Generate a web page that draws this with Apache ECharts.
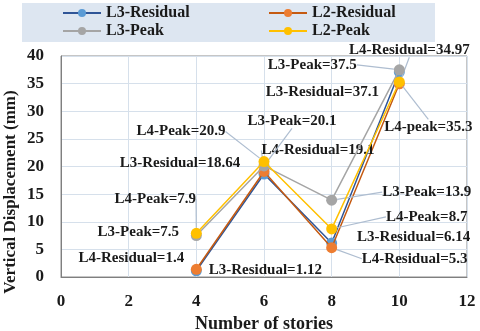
<!DOCTYPE html>
<html><head><meta charset="utf-8">
<script src="https://cdn.jsdelivr.net/npm/echarts@6/dist/echarts.min.js"></script>
<style>html,body{margin:0;padding:0;background:#fff}#c{width:480px;height:331px}</style>
</head><body><div id="c"></div>
<script>
var stories = [4, 6, 8, 10];
var seriesNames = ['L3-Residual', 'L2-Residual', 'L3-Peak', 'L2-Peak'];
var l3Residual = [1.12, 18.64, 6.14, 37.1];
var l2Residual = [1.4, 19.1, 5.3, 34.97];
var l3Peak = [7.5, 20.1, 13.9, 37.5];
var l2Peak = [7.9, 20.9, 8.7, 35.3];
var l3ResidualLabels = ['L3-Residual=1.12', 'L3-Residual=18.64', 'L3-Residual=6.14', 'L3-Residual=37.1'];
var l2ResidualLabels = ['L4-Residual=1.4', 'L4-Residual=19.1', 'L4-Residual=5.3', 'L4-Residual=34.97'];
var l3PeakLabels = ['L3-Peak=7.5', 'L3-Peak=20.1', 'L3-Peak=13.9', 'L3-Peak=37.5'];
var l2PeakLabels = ['L4-Peak=7.9', 'L4-Peak=20.9', 'L4-Peak=8.7', 'L4-peak=35.3'];
var xTicks = [0, 2, 4, 6, 8, 10, 12];
var yTicks = [0, 5, 10, 15, 20, 25, 30, 35, 40];
var xTitle = 'Number of stories';
var yTitle = 'Vertical Displacement (mm)';

// label placement (style only): offsets from point, and whether a leader line is drawn
var layout = [
  {d: [[69, -1], [-84, -11], [82, -6], [-77, 20]], g: [0, 0, 0, 0]},
  {d: [[-65, -11], [54, -21], [83, 11], [10, -34]], g: [0, 1, 1, 1]},
  {d: [[-58, -3], [28, -45], [95, -8], [-87, -5]], g: [0, 1, 1, 1]},
  {d: [[-41, -34], [-83, -30], [95, -12], [29, 45]], g: [1, 1, 1, 1]}
];
var legendPos = [[62, 5], [268, 5], [62, 23], [268, 23]];
var values = [l3Residual, l2Residual, l3Peak, l2Peak];
var labels = [l3ResidualLabels, l2ResidualLabels, l3PeakLabels, l2PeakLabels];
var lineColors = ['#2F5597', '#C55A11', '#A5A5A5', '#FFC000'];
var dotColors = ['#5B9BD5', '#ED7D31', '#A5A5A5', '#FFC000'];
var font = '"Liberation Serif", "Times New Roman", serif';
var txt = {fontFamily: font, fontWeight: 'bold', color: '#1a1a1a'};
function ts(size) { return Object.assign({fontSize: size}, txt); }

var series = values.map(function (vals, si) {
  return {
    name: seriesNames[si],
    type: 'line',
    symbol: 'circle',
    symbolSize: 11,
    z: 2 + si,
    lineStyle: {color: lineColors[si], width: 1.5},
    itemStyle: {color: dotColors[si]},
    label: Object.assign({show: true, position: 'inside'}, ts(15)),
    labelLine: {show: true, lineStyle: {color: '#aebdd0', width: 1.2}},
    data: vals.map(function (v, i) {
      return {value: [stories[i], v], label: {formatter: labels[si][i]}, labelLine: {show: !!layout[si].g[i]}};
    })
  };
});

var legends = seriesNames.map(function (n, i) {
  return {data: [{name: n, textStyle: ts(16)}], left: legendPos[i][0], top: legendPos[i][1], padding: 0,
    itemWidth: 38, itemHeight: 10, itemGap: 6, textStyle: ts(16)};
});

var chart = echarts.init(document.getElementById('c'), null, {renderer: 'canvas'});
chart.setOption({
  animation: false,
  graphic: [
    {type: 'rect', left: 22, top: 3, shape: {width: 413, height: 39}, style: {fill: '#dde6f1'}, z: -1},
    {type: 'text', x: 11, y: 192, rotation: Math.PI / 2,
     style: {text: yTitle, align: 'center', verticalAlign: 'middle',
       font: 'bold 17px "Liberation Serif", "Times New Roman", serif', fill: '#1a1a1a'}}
  ],
  legend: legends,
  grid: {left: 61, right: 13, top: 56, bottom: 54, show: true, borderColor: '#8c8c8c', borderWidth: 1,
    containLabel: false, outerBoundsMode: 'none'},
  xAxis: {
    type: 'value', min: xTicks[0], max: xTicks[xTicks.length - 1], interval: 2,
    name: xTitle, nameLocation: 'middle', nameGap: 35,
    nameTextStyle: ts(18),
    axisLine: {lineStyle: {color: '#7f7f7f'}}, axisTick: {show: false},
    axisLabel: Object.assign({margin: 16}, ts(17)),
    splitLine: {lineStyle: {color: '#d6e0eb'}}
  },
  yAxis: {
    type: 'value', min: yTicks[0], max: yTicks[yTicks.length - 1], interval: 5,
    axisLine: {show: true, lineStyle: {color: '#7f7f7f'}}, axisTick: {show: false},
    axisLabel: Object.assign({margin: 17}, ts(17)),
    splitLine: {lineStyle: {color: '#d6e0eb'}}
  },
  labelLayout: function (p) {
    var o = layout[p.seriesIndex].d[p.dataIndex];
    return {dx: o[0], dy: o[1]};
  },
  series: series
});
</script></body></html>
